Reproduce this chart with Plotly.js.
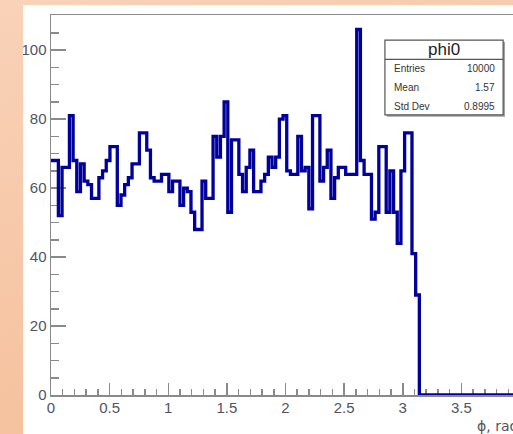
<!DOCTYPE html>
<html>
<head>
<meta charset="utf-8">
<script src="https://cdn.plot.ly/plotly-3.0.1.min.js"></script>
<style>
  html, body { margin: 0; padding: 0; width: 513px; height: 434px; overflow: hidden;
    background: linear-gradient(160deg, #f9d2b8 0%, #f6c4a2 60%, #f4bd98 100%); }
  #chart { position: absolute; left: 23px; top: 5px; width: 520px; height: 429px; background: #ffffff; }
</style>
</head>
<body>
<div id="chart"></div>
<script>
// ---- data (histogram "phi0") ----
const histName = "phi0";
const phiLow = 0;
const phiHigh = Math.PI;          // histogram bins span [0, pi]
const counts = [
  68, 68, 52, 66, 66, 81, 68, 59, 67, 62,
  61, 57, 57, 63, 65, 68, 72, 72, 55, 58,
  61, 63, 67, 67, 76, 76, 71, 63, 62, 62,
  64, 64, 59, 62, 62, 55, 60, 59, 53, 48,
  48, 62, 57, 57, 75, 69, 75, 85, 53, 74,
  74, 64, 59, 66, 71, 59, 59, 62, 64, 69,
  66, 69, 80, 81, 65, 64, 64, 75, 65, 66,
  54, 81, 81, 62, 66, 71, 57, 63, 66, 66,
  64, 64, 64, 106, 68, 64, 64, 51, 53, 72,
  72, 53, 65, 53, 44, 65, 76, 76, 41, 29
];
const xRange = [0, 4];
const yRange = [0, 110.2];
const statLabels = ["Entries", "Mean", "Std Dev"];
const statValues = ["10000", "1.57", "0.8995"];
const xTitle = "\u03d5, rad";

// ---- build step outline from bins ----
const nBins = counts.length;
const bw = (phiHigh - phiLow) / nBins;
const xs = [], ys = [];
for (let i = 0; i < nBins; i++) { xs.push(phiLow + i * bw); ys.push(counts[i]); }
xs.push(phiHigh); ys.push(0);
xs.push(xRange[1]); ys.push(0);

const trace = {
  type: 'scatter', mode: 'lines', x: xs, y: ys,
  line: { shape: 'hv', color: '#00009c', width: 3.3 },
  hoverinfo: 'skip'
};

const axisGray = '#8a8a8a';
const tickFont = { family: 'Liberation Sans, Arial, sans-serif', size: 15, color: '#4f5560' };

// stats box geometry in paper coordinates
const bx0 = 0.712, bx1 = 0.964, by0 = 0.737, by1 = 0.934, bsep = 0.883;
const rowY = [0.859, 0.810, 0.760];
const shapes = [
  { type: 'rect', xref: 'paper', yref: 'paper', x0: bx0 + 0.004, x1: bx1 + 0.004, y0: by0 - 0.005, y1: by1 - 0.005,
    fillcolor: '#a0a0a0', line: { width: 0 } },
  { type: 'rect', xref: 'paper', yref: 'paper', x0: bx0, x1: bx1, y0: by0, y1: by1,
    fillcolor: '#ffffff', line: { color: '#555555', width: 1.2 } },
  { type: 'line', xref: 'paper', yref: 'paper', x0: bx0, x1: bx1, y0: bsep, y1: bsep,
    line: { color: '#555555', width: 1.2 } }
];
const annotations = [
  { xref: 'paper', yref: 'paper', x: (bx0 + bx1) / 2, y: (by1 + bsep) / 2, text: histName, showarrow: false,
    xanchor: 'center', yanchor: 'middle', font: { family: 'Liberation Sans, Arial, sans-serif', size: 17, color: '#222' } },
  { xref: 'paper', yref: 'paper', x: 1, y: 0, yshift: -21, text: xTitle, showarrow: false,
    xanchor: 'right', yanchor: 'top', font: { family: 'DejaVu Sans, Liberation Sans, sans-serif', size: 14, color: '#4f5560' } }
];
statLabels.forEach((lab, k) => {
  annotations.push({ xref: 'paper', yref: 'paper', x: bx0 + 0.016, y: rowY[k], text: lab, showarrow: false,
    xanchor: 'left', yanchor: 'middle', font: { family: 'Liberation Sans, Arial, sans-serif', size: 10, color: '#333' } });
  annotations.push({ xref: 'paper', yref: 'paper', x: bx1 - 0.012, y: rowY[k], text: statValues[k], showarrow: false,
    xanchor: 'right', yanchor: 'middle', font: { family: 'Liberation Sans, Arial, sans-serif', size: 10, color: '#333' } });
});

const layout = {
  width: 520, height: 429,
  margin: { l: 28, r: 23, t: 10, b: 39, pad: 0 },
  paper_bgcolor: '#ffffff', plot_bgcolor: '#ffffff',
  showlegend: false,
  xaxis: {
    range: xRange, tick0: 0, dtick: 0.5, ticks: 'inside', ticklen: 12, tickwidth: 1.5, tickcolor: axisGray,
    minor: { dtick: 0.1, ticks: 'inside', ticklen: 6, tickwidth: 1.5, tickcolor: axisGray },
    showline: true, linecolor: axisGray, linewidth: 1.5, mirror: true,
    showgrid: false, zeroline: false, tickfont: tickFont, layer: 'below traces', ticklabelstandoff: -2
  },
  yaxis: {
    range: yRange, tick0: 0, dtick: 20, ticks: 'inside', ticklen: 15, tickwidth: 1.5, tickcolor: axisGray,
    minor: { dtick: 5, ticks: 'inside', ticklen: 8, tickwidth: 1.5, tickcolor: axisGray },
    showline: true, linecolor: axisGray, linewidth: 1.5, mirror: true,
    showgrid: false, zeroline: false, tickfont: tickFont, layer: 'below traces'
  },
  shapes: shapes,
  annotations: annotations
};

Plotly.newPlot('chart', [trace], layout, { displayModeBar: false, staticPlot: true });
</script>
</body>
</html>
